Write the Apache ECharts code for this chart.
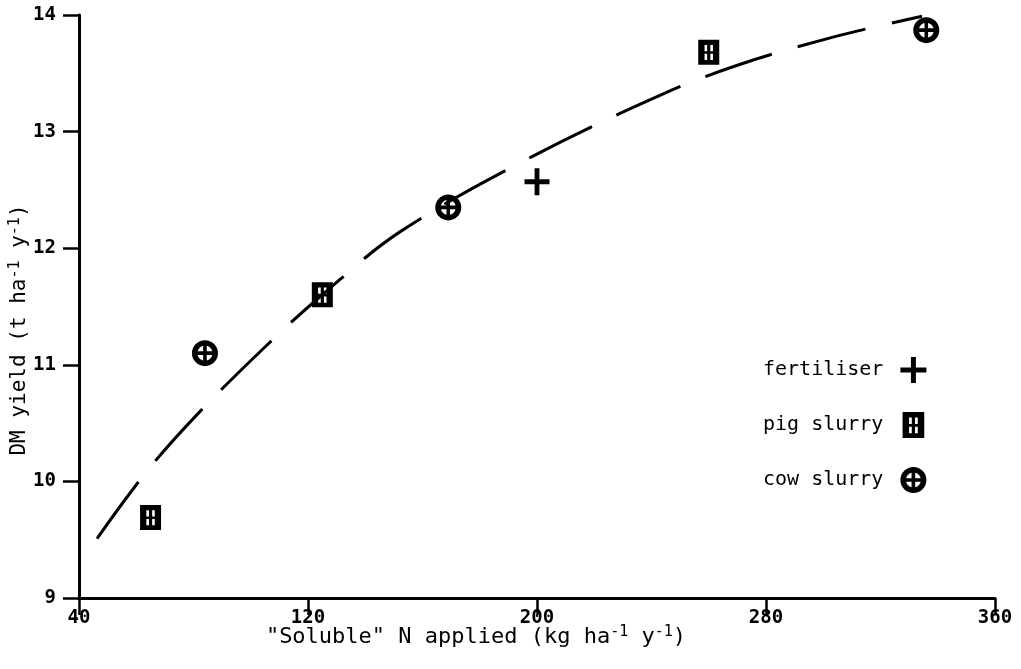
<!DOCTYPE html>
<html>
<head>
<meta charset="utf-8">
<title>DM yield vs soluble N applied</title>
<script src="https://cdn.jsdelivr.net/npm/echarts@6/dist/echarts.min.js"></script>
<style>
  html, body { margin: 0; padding: 0; background: #ffffff; }
  #chart { width: 1021px; height: 669px; }
</style>
</head>
<body>
<div id="chart"></div>
<script>
// Observed yields: [soluble N applied (kg/ha/y), DM yield (t/ha/y)]
const fertiliser = [[200, 12.57]];
const pigSlurry = [[65, 9.69], [125, 11.60], [260, 13.68]];
const cowSlurry = [[84, 11.10], [169, 12.35], [336, 13.87]];

// Fitted response curve, read at points along its length
const responseCurve = [
  [46.3, 9.51], [63.8, 10.09], [81.9, 10.59], [105.7, 11.17], [124.5, 11.59],
  [152.1, 12.14], [198.6, 12.79], [244.7, 13.33], [271.3, 13.58],
  [303.4, 13.81], [334.5, 13.99]
];

// Axis tick values
const xTicks = [40, 120, 200, 280, 360];
const yTicks = [9, 10, 11, 12, 13, 14];

// Marker glyphs: solid plus, square with four slits, disc with a cross cut out
const plusGlyph = 'path://M10.5 0H15.5V10.5H26V15.5H15.5V26H10.5V15.5H0V10.5H10.5Z';
const squareGlyph = 'path://M0 0H20V24H0Z' +
  'M6 5V11H8.5V5Z M11.5 5V11H14V5Z M6 13.5V19.5H8.5V13.5Z M11.5 13.5V19.5H14V13.5Z';
const discGlyph = 'path://M0 13A13 13 0 1 1 26 13A13 13 0 1 1 0 13Z' +
  'M14.8 11.2L20.28 11.2A7.5 7.5 0 0 0 14.8 5.72Z' +
  'M11.2 11.2L11.2 5.72A7.5 7.5 0 0 0 5.72 11.2Z' +
  'M11.2 14.8L5.72 14.8A7.5 7.5 0 0 0 11.2 20.28Z' +
  'M14.8 14.8L14.8 20.28A7.5 7.5 0 0 0 20.28 14.8Z';

const mono = '"DejaVu Sans Mono", "Liberation Mono", monospace';
const supStyle = { fontFamily: mono, fontSize: 15, verticalAlign: 'top', lineHeight: 14, color: '#000' };
const solid = { color: '#000', opacity: 1 };

const chart = echarts.init(document.getElementById('chart'), null, { renderer: 'canvas' });

chart.setOption({
  backgroundColor: '#ffffff',
  animation: false,
  grid: { left: 79, right: 26, top: 15, bottom: 71, containLabel: false, outerBoundsMode: 'none' },
  legend: {
    orient: 'vertical',
    align: 'right',
    left: 758,
    top: 352,
    itemWidth: 26,
    itemHeight: 26,
    itemGap: 29,
    symbolKeepAspect: true,
    selectedMode: false,
    itemStyle: solid,
    textStyle: { fontFamily: mono, fontSize: 20, color: '#000', padding: [0, 12, 0, 0] },
    data: [
      { name: 'fertiliser', icon: plusGlyph },
      { name: 'pig slurry', icon: squareGlyph },
      { name: 'cow slurry', icon: discGlyph }
    ]
  },
  xAxis: {
    type: 'value',
    min: xTicks[0],
    max: xTicks[xTicks.length - 1],
    interval: xTicks[1] - xTicks[0],
    name: '"Soluble" N applied (kg ha{s|-1} y{s|-1})',
    nameLocation: 'middle',
    nameGap: 27,
    nameMoveOverlap: false,
    nameTextStyle: {
      fontFamily: mono, fontSize: 22, color: '#000', lineHeight: 24,
      padding: [0, 122, 0, 0],
      rich: { s: supStyle }
    },
    axisLine: { show: true, lineStyle: { color: '#000', width: 3 } },
    axisTick: { show: true, inside: false, length: 17, lineStyle: { color: '#000', width: 2.5 } },
    axisLabel: { fontFamily: mono, fontSize: 19, fontWeight: 'bold', color: '#000', margin: 11 },
    splitLine: { show: false }
  },
  yAxis: {
    type: 'value',
    min: yTicks[0],
    max: yTicks[yTicks.length - 1],
    interval: yTicks[1] - yTicks[0],
    name: 'DM yield (t ha{s|-1} y{s|-1})',
    nameLocation: 'middle',
    nameGap: 47,
    nameMoveOverlap: false,
    nameTextStyle: {
      fontFamily: mono, fontSize: 21, color: '#000', lineHeight: 24,
      padding: [0, 47, 0, 0],
      rich: { s: supStyle }
    },
    axisLine: { show: true, lineStyle: { color: '#000', width: 3 } },
    axisTick: { show: true, inside: false, length: 16, lineStyle: { color: '#000', width: 2.5 } },
    axisLabel: { fontFamily: mono, fontSize: 19, fontWeight: 'bold', color: '#000', margin: 23 },
    splitLine: { show: false }
  },
  series: [
    {
      name: 'response',
      type: 'line',
      data: responseCurve,
      smooth: 0.35,
      showSymbol: false,
      silent: true,
      lineStyle: { color: '#000', width: 3, type: [70, 27] },
      z: 2
    },
    {
      name: 'fertiliser',
      type: 'scatter',
      data: fertiliser,
      symbol: plusGlyph,
      symbolSize: [25, 27],
      itemStyle: solid,
      z: 5
    },
    {
      name: 'pig slurry',
      type: 'scatter',
      data: pigSlurry,
      symbol: squareGlyph,
      symbolSize: [21, 25],
      itemStyle: solid,
      z: 5
    },
    {
      name: 'cow slurry',
      type: 'scatter',
      data: cowSlurry,
      symbol: discGlyph,
      symbolSize: [26, 26],
      itemStyle: solid,
      z: 5
    }
  ]
});
</script>
</body>
</html>
